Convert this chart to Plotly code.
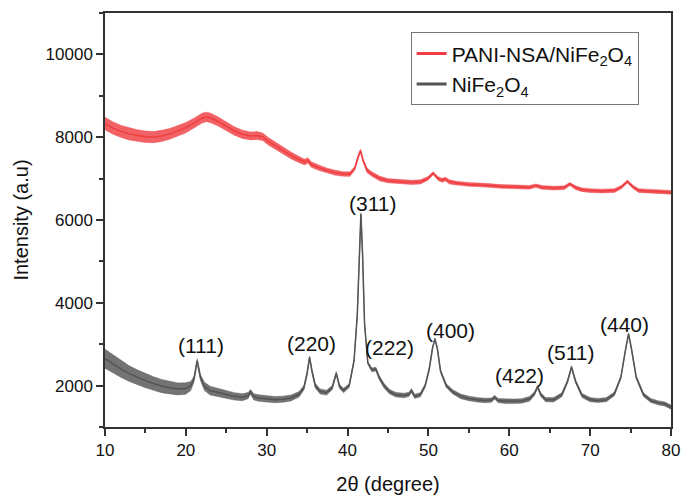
import plotly.graph_objects as go

# --- XRD pattern: NiFe2O4 (grey) ---
two_theta_ni = [10, 11, 12, 13, 14, 15, 16, 17, 18, 19,
                20, 20.6, 21.0, 21.4, 21.8, 22.3, 23, 24, 25, 26,
                27, 27.7, 28.0, 28.4, 29, 30, 31, 32, 33, 34,
                34.6, 35.0, 35.3, 35.6, 36.0, 36.6, 37.4, 38.1, 38.6, 39.0,
                39.5, 40.2, 40.8, 41.2, 41.45, 41.65, 41.85, 42.1, 42.5, 43.0,
                43.5, 43.9, 44.5, 45.2, 46, 47, 47.6, 47.9, 48.3, 49,
                49.6, 50.1, 50.5, 50.8, 51.1, 51.5, 52.2, 53, 54, 55,
                56, 57, 57.8, 58.2, 58.6, 59.5, 60.5, 61.5, 62.5, 63.1,
                63.5, 63.9, 64.5, 65.5, 66.5, 67.2, 67.7, 68.2, 69, 70,
                71, 72, 73, 73.8, 74.4, 74.75, 75.1, 75.7, 76.6, 77.5,
                78.5, 79.2, 80]
intensity_ni = [2650, 2520, 2400, 2290, 2200, 2120, 2050, 1990, 1950, 1920,
                1930, 1990, 2150, 2600, 2200, 1980, 1880, 1830, 1780, 1740,
                1720, 1760, 1850, 1730, 1700, 1680, 1660, 1670, 1700, 1790,
                1950, 2300, 2680, 2350, 2000, 1860, 1830, 1950, 2300, 1980,
                1880, 2000, 2600, 3700, 5200, 6150, 5200, 3500, 2550, 2380,
                2400, 2200, 2000, 1850, 1780, 1760, 1790, 1880, 1740, 1780,
                2000, 2400, 2900, 3130, 2900, 2350, 2000, 1850, 1740, 1690,
                1660, 1640, 1650, 1720, 1640, 1620, 1620, 1630, 1680, 1800,
                1970, 1780, 1660, 1660, 1780, 2100, 2450, 2100, 1760, 1660,
                1640, 1660, 1800, 2200, 2900, 3250, 2900, 2200, 1780, 1640,
                1580, 1560, 1480]
# half-width of the noise band around the NiFe2O4 trace
noise_ni = [230, 220, 205, 190, 180, 170, 165, 160, 150, 145,
            140, 110, 70, 50, 70, 100, 105, 100, 95, 90,
            85, 75, 55, 75, 80, 80, 75, 75, 70, 65,
            55, 45, 35, 45, 55, 60, 60, 50, 40, 50,
            55, 45, 35, 25, 20, 20, 20, 25, 35, 45,
            45, 50, 55, 55, 55, 55, 50, 45, 50, 50,
            45, 35, 30, 25, 30, 35, 45, 50, 55, 55,
            55, 55, 50, 45, 50, 55, 55, 55, 55, 45,
            35, 45, 50, 55, 50, 40, 30, 40, 50, 50,
            50, 50, 45, 35, 30, 25, 30, 35, 45, 50,
            50, 50, 50]

# --- XRD pattern: PANI-NSA/NiFe2O4 (red) ---
two_theta_pani = [10, 11, 12, 13, 14, 15, 16, 17, 18, 19,
                  20, 21, 22, 22.5, 23, 24, 25, 26, 27, 28,
                  28.8, 29.5, 30.2, 31, 32, 33, 34, 34.7, 35.1, 35.5,
                  36.5, 37.5, 38.5, 39.5, 40.3, 40.9, 41.3, 41.6, 41.9, 42.4,
                  43.0, 44, 45, 46, 47, 48, 49, 49.9, 50.6, 51.2,
                  51.7, 52.1, 52.6, 53.5, 55, 57, 59, 61, 62.5, 63.3,
                  64, 65.5, 66.8, 67.5, 68.2, 69, 70, 71.5, 73, 73.9,
                  74.6, 75.3, 76, 77, 78.5, 80]
intensity_pani = [8330, 8220, 8140, 8080, 8040, 8010, 8000, 8030, 8080, 8150,
                  8230, 8340, 8460, 8490, 8470, 8380, 8260, 8150, 8070, 8030,
                  8040, 8010, 7900, 7800, 7680, 7560, 7460, 7400, 7440, 7340,
                  7260, 7190, 7140, 7110, 7110, 7250, 7520, 7680, 7450, 7200,
                  7110, 7000, 6950, 6930, 6920, 6910, 6920, 7000, 7130, 7000,
                  6960, 6990, 6920, 6890, 6860, 6840, 6810, 6800, 6790, 6830,
                  6790, 6770, 6780, 6870, 6780, 6730, 6710, 6700, 6710, 6800,
                  6930, 6800, 6710, 6700, 6690, 6670]
noise_pani = [150, 150, 145, 145, 140, 140, 135, 135, 130, 130,
              125, 120, 120, 115, 115, 110, 105, 100, 100, 95,
              95, 90, 90, 85, 80, 80, 75, 70, 65, 65,
              65, 60, 60, 55, 55, 45, 35, 30, 40, 55,
              55, 55, 50, 50, 50, 50, 50, 45, 35, 45,
              50, 45, 50, 45, 45, 45, 45, 45, 45, 40,
              45, 45, 45, 35, 45, 45, 45, 45, 45, 40,
              35, 40, 45, 45, 45, 45]

# Miller-index labels
hkl_labels = ["(111)", "(220)", "(311)", "(222)", "(400)", "(422)", "(511)", "(440)"]
hkl_x = [21.9, 35.6, 43.1, 45.2, 52.7, 61.3, 67.6, 74.2]
hkl_y = [2970, 3010, 6400, 2930, 3320, 2240, 2810, 3470]

# y-axis ticks
y_tickvals = [2000, 4000, 6000, 8000, 10000]
y_ticktext = ["2000", "4000", "6000", "8000", "10000"]

RED = "rgb(239,62,66)"
RED_BAND = "rgba(239,62,66,0.82)"
GREY = "rgb(84,84,84)"
GREY_BAND = "rgba(84,84,84,0.82)"
FONT = "Liberation Sans, Arial, sans-serif"

fig = go.Figure()


def add_pattern(x, y, spread, color, band_color, name, rank):
    lower = [v - s for v, s in zip(y, spread)]
    upper = [v + s for v, s in zip(y, spread)]
    fig.add_trace(go.Scatter(x=x, y=lower, mode="lines", line=dict(width=0.5, color=band_color),
                             showlegend=False, hoverinfo="skip"))
    fig.add_trace(go.Scatter(x=x, y=upper, mode="lines", line=dict(width=0.5, color=band_color),
                             fill="tonexty", fillcolor=band_color,
                             showlegend=False, hoverinfo="skip"))
    fig.add_trace(go.Scatter(x=x, y=y, mode="lines", showlegend=False,
                             line=dict(width=1.5, color=color)))
    # legend entry with a thicker stroke
    fig.add_trace(go.Scatter(x=[None], y=[None], mode="lines", name=name, legendrank=rank,
                             line=dict(width=3, color=color)))


add_pattern(two_theta_ni, intensity_ni, noise_ni, GREY, GREY_BAND,
            "NiFe<sub>2</sub>O<sub>4</sub>", 2)
add_pattern(two_theta_pani, intensity_pani, noise_pani, RED, RED_BAND,
            "PANI-NSA/NiFe<sub>2</sub>O<sub>4</sub>", 1)

for t, xv, yv in zip(hkl_labels, hkl_x, hkl_y):
    fig.add_annotation(x=xv, y=yv, text=t, showarrow=False,
                       font=dict(size=21, color="#111111", family=FONT))

axis_common = dict(
    showline=True, linewidth=1.5, linecolor="#333333", mirror=True,
    ticks="outside", ticklen=7, tickwidth=1.5, tickcolor="#333333",
    showgrid=False, zeroline=False,
    tickfont=dict(size=17, color="#111111", family=FONT),
)

fig.update_xaxes(range=[10, 80], tick0=10, dtick=10,
                 minor=dict(dtick=5, ticks="outside", ticklen=4, tickcolor="#333333"),
                 title=dict(text="2θ (degree)", font=dict(size=20, color="#111111", family=FONT),
                            standoff=18),
                 **axis_common)
fig.update_yaxes(range=[1000, 11000], tickvals=y_tickvals, ticktext=y_ticktext,
                 minor=dict(tickvals=[1000, 3000, 5000, 7000, 9000, 11000], ticks="outside",
                            ticklen=4, tickcolor="#333333"),
                 title=dict(text="Intensity (a.u)", font=dict(size=20, color="#111111", family=FONT),
                            standoff=12),
                 **axis_common)

fig.update_layout(
    width=691, height=503,
    margin=dict(l=105, r=11, t=12, b=68),
    plot_bgcolor="white", paper_bgcolor="white",
    font=dict(family=FONT, size=17),
    legend=dict(x=0.54, y=0.953, xanchor="left", yanchor="top",
                bordercolor="#777777", borderwidth=1, bgcolor="rgba(255,255,255,0)",
                font=dict(size=21, color="#111111", family=FONT),
                traceorder="normal", tracegroupgap=0),
)

fig.write_html("out.html")
